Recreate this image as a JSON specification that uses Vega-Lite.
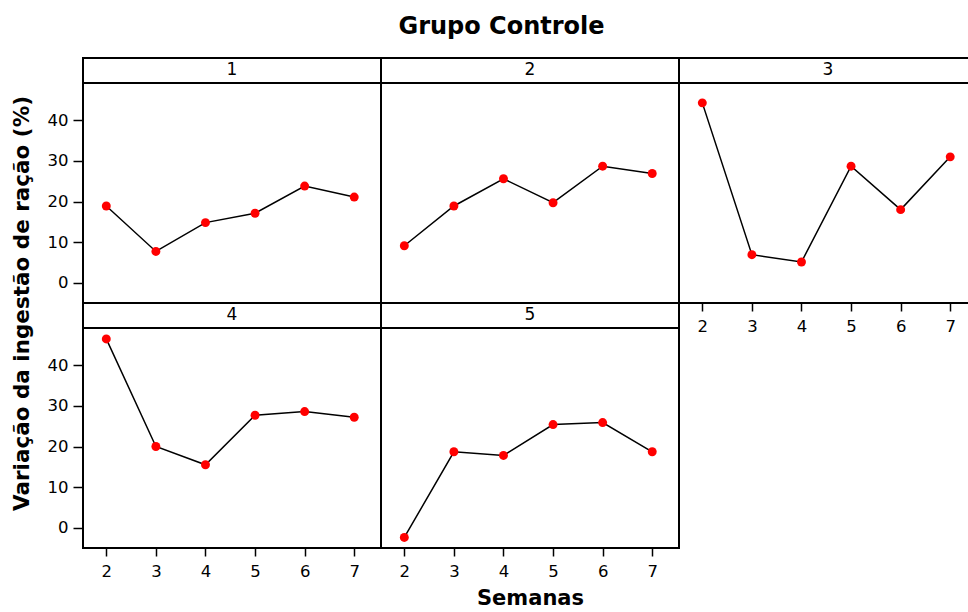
{
  "$schema": "https://vega.github.io/schema/vega-lite/v6.json",
  "padding": {"left": 10, "top": 15, "right": 0, "bottom": 0},
  "title": {"text": "Grupo Controle", "fontSize": 24, "font": "DejaVu Sans", "fontWeight": "bold", "anchor": "middle", "color": "black", "offset": 18, "dx": 7},
  "data": {"values": [
    {"grupo": "1", "semana": 2, "valor": 18.9},
    {"grupo": "1", "semana": 3, "valor": 7.7},
    {"grupo": "1", "semana": 4, "valor": 14.8},
    {"grupo": "1", "semana": 5, "valor": 17.1},
    {"grupo": "1", "semana": 6, "valor": 23.8},
    {"grupo": "1", "semana": 7, "valor": 21.1},
    {"grupo": "2", "semana": 2, "valor": 9.1},
    {"grupo": "2", "semana": 3, "valor": 18.9},
    {"grupo": "2", "semana": 4, "valor": 25.6},
    {"grupo": "2", "semana": 5, "valor": 19.7},
    {"grupo": "2", "semana": 6, "valor": 28.7},
    {"grupo": "2", "semana": 7, "valor": 26.9},
    {"grupo": "3", "semana": 2, "valor": 44.3},
    {"grupo": "3", "semana": 3, "valor": 6.9},
    {"grupo": "3", "semana": 4, "valor": 5.1},
    {"grupo": "3", "semana": 5, "valor": 28.7},
    {"grupo": "3", "semana": 6, "valor": 18.0},
    {"grupo": "3", "semana": 7, "valor": 31.0},
    {"grupo": "4", "semana": 2, "valor": 46.5},
    {"grupo": "4", "semana": 3, "valor": 20.0},
    {"grupo": "4", "semana": 4, "valor": 15.5},
    {"grupo": "4", "semana": 5, "valor": 27.7},
    {"grupo": "4", "semana": 6, "valor": 28.6},
    {"grupo": "4", "semana": 7, "valor": 27.2},
    {"grupo": "5", "semana": 2, "valor": -2.4},
    {"grupo": "5", "semana": 3, "valor": 18.7},
    {"grupo": "5", "semana": 4, "valor": 17.8},
    {"grupo": "5", "semana": 5, "valor": 25.4},
    {"grupo": "5", "semana": 6, "valor": 25.9},
    {"grupo": "5", "semana": 7, "valor": 18.7}
  ]},
  "columns": 3,
  "spacing": 0,
  "bounds": "flush",
  "concat": [
    {
      "transform": [{"filter": "datum.grupo == '1'"}],
      "width": 298, "height": 245,
      "encoding": {
        "x": {"field": "semana", "type": "quantitative", "scale": {"domain": [1.53, 7.54], "nice": false, "zero": false}, "axis": null},
        "y": {"field": "valor", "type": "quantitative", "scale": {"domain": [-5, 55.35], "nice": false, "zero": false},
              "axis": {"values": [0, 10, 20, 30, 40], "title": "Variação da ingestão de ração (%)", "titleAnchor": "start", "titleAlign": "center", "titlePadding": 14, "titleFontSize": 21.5}}
      },
      "layer": [
        {"mark": {"type": "rule", "color": "black", "strokeWidth": 2}, "encoding": {"x": null, "y": {"datum": 49.2, "type": "quantitative"}}},
        {"transform": [{"filter": "datum.semana == 2"}], "mark": {"type": "text", "fontSize": 17, "color": "black", "baseline": "middle", "align": "center"},
         "encoding": {"x": {"datum": 4.535, "type": "quantitative"}, "y": {"datum": 52.3, "type": "quantitative"}, "text": {"field": "grupo"}}},
        {"mark": {"type": "line", "color": "black", "strokeWidth": 1.5}},
        {"mark": {"type": "point", "filled": true, "color": "#ff0000", "opacity": 1, "size": 80}}
      ]
    },
    {
      "transform": [{"filter": "datum.grupo == '2'"}],
      "width": 298, "height": 245,
      "encoding": {
        "x": {"field": "semana", "type": "quantitative", "scale": {"domain": [1.53, 7.54], "nice": false, "zero": false}, "axis": null},
        "y": {"field": "valor", "type": "quantitative", "scale": {"domain": [-5, 55.35], "nice": false, "zero": false}, "axis": null}
      },
      "layer": [
        {"mark": {"type": "rule", "color": "black", "strokeWidth": 2}, "encoding": {"x": null, "y": {"datum": 49.2, "type": "quantitative"}}},
        {"transform": [{"filter": "datum.semana == 2"}], "mark": {"type": "text", "fontSize": 17, "color": "black", "baseline": "middle", "align": "center"},
         "encoding": {"x": {"datum": 4.535, "type": "quantitative"}, "y": {"datum": 52.3, "type": "quantitative"}, "text": {"field": "grupo"}}},
        {"mark": {"type": "line", "color": "black", "strokeWidth": 1.5}},
        {"mark": {"type": "point", "filled": true, "color": "#ff0000", "opacity": 1, "size": 80}}
      ]
    },
    {
      "transform": [{"filter": "datum.grupo == '3'"}],
      "width": 298, "height": 245,
      "encoding": {
        "x": {"field": "semana", "type": "quantitative", "scale": {"domain": [1.53, 7.54], "nice": false, "zero": false}, "axis": {"values": [2, 3, 4, 5, 6, 7], "title": null}},
        "y": {"field": "valor", "type": "quantitative", "scale": {"domain": [-5, 55.35], "nice": false, "zero": false}, "axis": null}
      },
      "layer": [
        {"mark": {"type": "rule", "color": "black", "strokeWidth": 2}, "encoding": {"x": null, "y": {"datum": 49.2, "type": "quantitative"}}},
        {"transform": [{"filter": "datum.semana == 2"}], "mark": {"type": "text", "fontSize": 17, "color": "black", "baseline": "middle", "align": "center"},
         "encoding": {"x": {"datum": 4.535, "type": "quantitative"}, "y": {"datum": 52.3, "type": "quantitative"}, "text": {"field": "grupo"}}},
        {"mark": {"type": "line", "color": "black", "strokeWidth": 1.5}},
        {"mark": {"type": "point", "filled": true, "color": "#ff0000", "opacity": 1, "size": 80}}
      ]
    },
    {
      "transform": [{"filter": "datum.grupo == '4'"}],
      "width": 298, "height": 245,
      "encoding": {
        "x": {"field": "semana", "type": "quantitative", "scale": {"domain": [1.53, 7.54], "nice": false, "zero": false}, "axis": {"values": [2, 3, 4, 5, 6, 7], "title": null}},
        "y": {"field": "valor", "type": "quantitative", "scale": {"domain": [-5, 55.35], "nice": false, "zero": false}, "axis": {"values": [0, 10, 20, 30, 40], "title": null}}
      },
      "layer": [
        {"mark": {"type": "rule", "color": "black", "strokeWidth": 2}, "encoding": {"x": null, "y": {"datum": 49.2, "type": "quantitative"}}},
        {"transform": [{"filter": "datum.semana == 2"}], "mark": {"type": "text", "fontSize": 17, "color": "black", "baseline": "middle", "align": "center"},
         "encoding": {"x": {"datum": 4.535, "type": "quantitative"}, "y": {"datum": 52.3, "type": "quantitative"}, "text": {"field": "grupo"}}},
        {"mark": {"type": "line", "color": "black", "strokeWidth": 1.5}},
        {"mark": {"type": "point", "filled": true, "color": "#ff0000", "opacity": 1, "size": 80}}
      ]
    },
    {
      "transform": [{"filter": "datum.grupo == '5'"}],
      "width": 298, "height": 245,
      "encoding": {
        "x": {"field": "semana", "type": "quantitative", "scale": {"domain": [1.53, 7.54], "nice": false, "zero": false}, "axis": {"values": [2, 3, 4, 5, 6, 7], "title": "Semanas", "titlePadding": 8, "titleFontSize": 21}},
        "y": {"field": "valor", "type": "quantitative", "scale": {"domain": [-5, 55.35], "nice": false, "zero": false}, "axis": null}
      },
      "layer": [
        {"mark": {"type": "rule", "color": "black", "strokeWidth": 2}, "encoding": {"x": null, "y": {"datum": 49.2, "type": "quantitative"}}},
        {"transform": [{"filter": "datum.semana == 2"}], "mark": {"type": "text", "fontSize": 17, "color": "black", "baseline": "middle", "align": "center"},
         "encoding": {"x": {"datum": 4.535, "type": "quantitative"}, "y": {"datum": 52.3, "type": "quantitative"}, "text": {"field": "grupo"}}},
        {"mark": {"type": "line", "color": "black", "strokeWidth": 1.5}},
        {"mark": {"type": "point", "filled": true, "color": "#ff0000", "opacity": 1, "size": 80}}
      ]
    }
  ],
  "config": {
    "font": "DejaVu Sans",
    "view": {"stroke": "black", "strokeWidth": 2},
    "axis": {"grid": false, "domain": false, "tickColor": "black", "tickWidth": 1.5,
             "labelFontSize": 16.5, "labelColor": "black", "labelFont": "DejaVu Sans",
             "titleFontSize": 20, "titleFontWeight": "bold", "titleColor": "black", "titleFont": "DejaVu Sans"},
    "axisX": {"tickSize": 8, "labelPadding": 7},
    "axisY": {"tickSize": 10, "labelPadding": 5}
  }
}
